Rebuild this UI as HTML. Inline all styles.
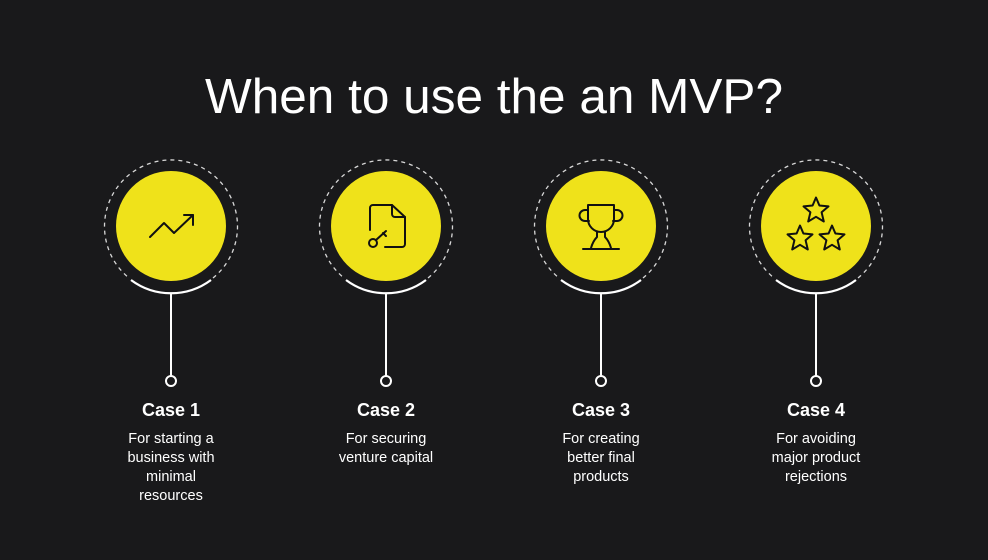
<!DOCTYPE html>
<html><head><meta charset="utf-8"><style>
html,body{margin:0;padding:0;background:#19191b;}
svg{display:block}
</style></head><body>
<svg width="988" height="560" viewBox="0 0 988 560" xmlns="http://www.w3.org/2000/svg">
<rect width="988" height="560" fill="#19191b"/>
<text x="494" y="113" text-anchor="middle" font-family="Liberation Sans, sans-serif" font-size="49" fill="#fff" textLength="578" lengthAdjust="spacingAndGlyphs">When to use the an MVP?</text>
<defs>
<g id="node">
<path d="M 42 52 A 66.5 66.5 0 1 0 -42 52" fill="none" stroke="#d8d8d8" stroke-width="1.3" stroke-dasharray="4 4"/>
<circle cx="0" cy="0" r="55" fill="#efe21a"/>
<path d="M -40 54 A 67 67 0 0 0 40 54" fill="none" stroke="#fff" stroke-width="2.2"/>
<line x1="0" y1="67" x2="0" y2="150" stroke="#fff" stroke-width="2"/>
<circle cx="0" cy="155" r="5" fill="#19191b" stroke="#fff" stroke-width="2"/>
</g>
</defs>
<use href="#node" x="171" y="226"/>
<use href="#node" x="386" y="226"/>
<use href="#node" x="601" y="226"/>
<use href="#node" x="816" y="226"/>
<g fill="none" stroke="#111" stroke-width="2" stroke-linejoin="round" stroke-linecap="round">
<!-- trend -->
<polyline points="150,237 164,223 174,233 193,215"/>
<polyline points="184,215 193,215 193,225"/>
<!-- doc key -->
<path d="M370 230 V208 a3 3 0 0 1 3 -3 H392 L405 217 V244 a3 3 0 0 1 -3 3 H385"/>
<path d="M392 205 V214 a3 3 0 0 0 3 3 H405"/>
<circle cx="373" cy="243" r="4"/>
<line x1="376" y1="240" x2="386" y2="231"/>
<line x1="383" y1="233" x2="386" y2="236"/>
<!-- trophy -->
<path d="M588 205 H614 V219 a13 13 0 0 1 -26 0 Z"/>
<path d="M588 210 h-3 a5.5 5.5 0 0 0 0 11 h4"/>
<path d="M614 210 h3 a5.5 5.5 0 0 1 0 11 h-4"/>
<path d="M597 232 q0 3 0 5 q-4 4 -6 11 M605 232 q0 3 0 5 q4 4 6 11"/>
<line x1="583" y1="249" x2="619" y2="249"/>
</g>
<g fill="none" stroke="#111" stroke-width="2" stroke-linejoin="round">
<path d="M0,-12.5 L3.4,-4.5 L12.5,-3.6 L5.6,2.3 L7.8,11.5 L0,6.8 L-7.8,11.5 L-5.6,2.3 L-12.5,-3.6 L-3.4,-4.5 Z" transform="translate(816,210)"/>
<path d="M0,-12.5 L3.4,-4.5 L12.5,-3.6 L5.6,2.3 L7.8,11.5 L0,6.8 L-7.8,11.5 L-5.6,2.3 L-12.5,-3.6 L-3.4,-4.5 Z" transform="translate(800,238)"/>
<path d="M0,-12.5 L3.4,-4.5 L12.5,-3.6 L5.6,2.3 L7.8,11.5 L0,6.8 L-7.8,11.5 L-5.6,2.3 L-12.5,-3.6 L-3.4,-4.5 Z" transform="translate(832,238)"/>
</g>
<g font-family="Liberation Sans, sans-serif" fill="#fff" text-anchor="middle">
<g font-size="18" font-weight="bold">
<text x="171" y="416">Case 1</text>
<text x="386" y="416">Case 2</text>
<text x="601" y="416">Case 3</text>
<text x="816" y="416">Case 4</text>
</g>
<g font-size="14.5">
<text x="171" y="443">For starting a</text>
<text x="171" y="462">business with</text>
<text x="171" y="481">minimal</text>
<text x="171" y="500">resources</text>
<text x="386" y="443">For securing</text>
<text x="386" y="462">venture capital</text>
<text x="601" y="443">For creating</text>
<text x="601" y="462">better final</text>
<text x="601" y="481">products</text>
<text x="816" y="443">For avoiding</text>
<text x="816" y="462">major product</text>
<text x="816" y="481">rejections</text>
</g>
</g>
</svg>
</body></html>
